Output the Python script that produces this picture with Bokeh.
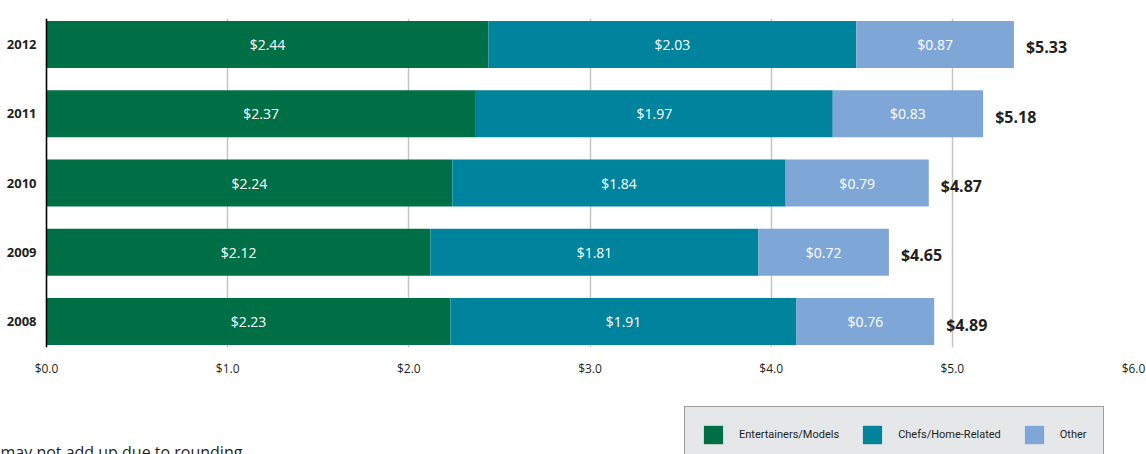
from bokeh.plotting import figure
from bokeh.layouts import column
from bokeh.models import (ColumnDataSource, Range1d, FixedTicker, NumeralTickFormatter,
                          Legend, LegendItem, Label)
from bokeh.core.properties import value
from bokeh.embed import file_html
from bokeh.resources import INLINE

years = [2008, 2009, 2010, 2011, 2012]
entertainers = [2.23, 2.12, 2.24, 2.37, 2.44]
chefs = [1.91, 1.81, 1.84, 1.97, 2.03]
other = [0.76, 0.72, 0.79, 0.83, 0.87]
totals = [4.89, 4.65, 4.87, 5.18, 5.33]
series_names = ["Entertainers/Models", "Chefs/Home-Related", "Other"]
colors = ["#006f45", "#00849d", "#7ea7d8"]
x_ticks = [0, 1, 2, 3, 4, 5, 6]
note_text = "may not add up due to rounding."

FONT = "Open Sans"
DARK = "#231f20"

W, H1, H2 = 1146, 380, 74
LEFT_GAP, RIGHT_GAP = 46, 13
px_per_unit = (W - RIGHT_GAP - LEFT_GAP) / 6.0

src = ColumnDataSource(dict(year=years, ent=entertainers, chef=chefs, oth=other, total=totals))

p = figure(width=W, height=H1, output_backend="svg", toolbar_location=None,
           x_range=Range1d(-LEFT_GAP / px_per_unit, 6), y_range=Range1d(2007.625, 2012.375),
           min_border_left=0, min_border_right=RIGHT_GAP, min_border_top=18, min_border_bottom=33)
p.outline_line_color = None

renderers = p.hbar_stack(["ent", "chef", "oth"], y="year", height=0.68, source=src,
                         color=colors, line_color=None)

# segment value labels
cum = [0.0] * len(years)
for vals in (entertainers, chefs, other):
    mids = [c + v / 2 for c, v in zip(cum, vals)]
    cum = [c + v for c, v in zip(cum, vals)]
    s = ColumnDataSource(dict(x=mids, y=years, t=["$%.2f" % v for v in vals]))
    p.text(x="x", y="y", text="t", source=s, text_align="center", text_baseline="middle",
           text_color="white", text_font=value(FONT), text_font_size="14px")

# totals
ts = ColumnDataSource(dict(x=cum, y=years, t=["$%.2f" % v for v in totals]))
p.text(x="x", y="y", text="t", source=ts, x_offset=12, y_offset=3, text_align="left",
       text_baseline="middle", text_color=DARK, text_font=value(FONT),
       text_font_size="16px", text_font_style="bold")

# axes
p.xaxis.ticker = FixedTicker(ticks=x_ticks)
p.xaxis.formatter = NumeralTickFormatter(format="$0.0")
p.xaxis.axis_line_color = None
p.xaxis.major_tick_line_color = None
p.xaxis.minor_tick_line_color = None
p.xaxis.major_label_standoff = 6
p.xaxis.major_label_text_font = FONT
p.xaxis.major_label_text_font_size = "12px"
p.xaxis.major_label_text_color = DARK

p.yaxis.fixed_location = 0
p.yaxis.ticker = FixedTicker(ticks=years)
p.yaxis.axis_line_color = "black"
p.yaxis.axis_line_width = 1.5
p.yaxis.major_tick_line_color = None
p.yaxis.minor_tick_line_color = None
p.yaxis.major_label_standoff = 4
p.yaxis.major_label_text_font = FONT
p.yaxis.major_label_text_font_size = "13px"
p.yaxis.major_label_text_font_style = "bold"
p.yaxis.major_label_text_color = DARK

p.xgrid.ticker = FixedTicker(ticks=x_ticks)
p.xgrid.grid_line_color = "#c4c4c4"
p.xgrid.grid_line_width = 1.5
p.ygrid.grid_line_color = None

# bottom strip with legend and note
p2 = figure(width=W, height=H2, output_backend="svg", toolbar_location=None,
            x_range=Range1d(0, W), y_range=Range1d(0, H2),
            x_axis_location=None, y_axis_location=None,
            min_border=0, min_border_left=0, min_border_right=0,
            min_border_top=0, min_border_bottom=0)
p2.grid.visible = False
p2.outline_line_color = None

dummy = [p2.hbar(y=[-1000], right=[0], height=1, fill_color=c, line_color=None) for c in colors]
legend = Legend(items=[LegendItem(label=n, renderers=[r]) for n, r in zip(series_names, dummy)],
                orientation="horizontal", location=(684, -9),
                background_fill_color="#e6e7e8", background_fill_alpha=1,
                border_line_color="#555555", border_line_width=1,
                padding=16, spacing=21, glyph_width=24, glyph_height=23, label_standoff=14,
                label_text_font="Roboto", label_text_font_size="11px", label_text_color=DARK,
                margin=0)
p2.add_layout(legend, "center")

note = Label(x=0, y=3, x_units="screen", y_units="screen", text=note_text,
             text_font=FONT, text_font_size="16px", text_color=DARK, text_baseline="alphabetic")
p2.add_layout(note)

layout = column(p, p2, spacing=0)
open("out.html", "w").write(file_html(layout, INLINE))
